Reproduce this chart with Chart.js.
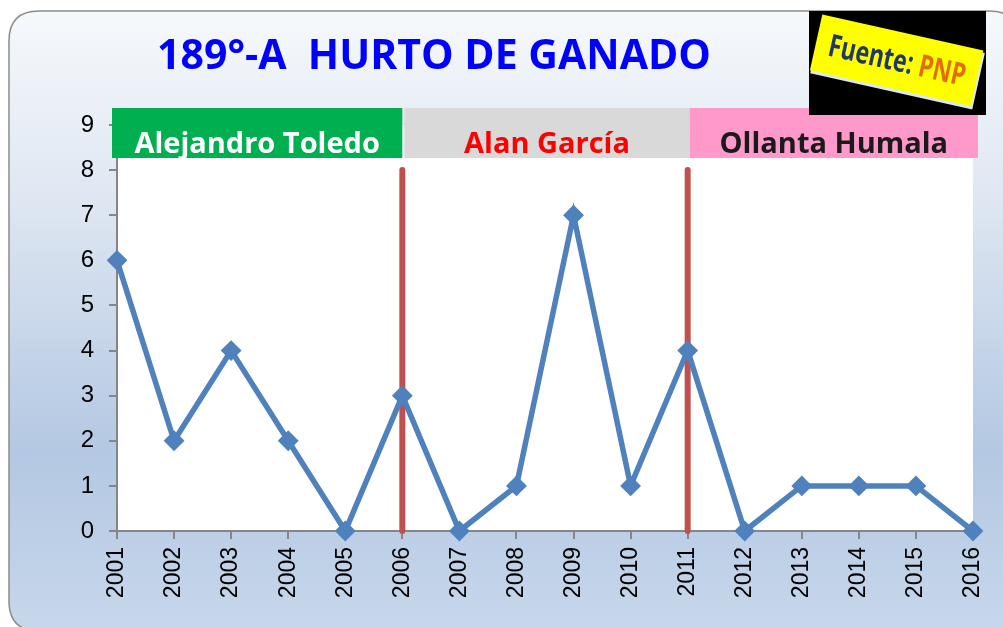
<!DOCTYPE html>
<html>
<head>
<meta charset="utf-8">
<script src="https://cdn.jsdelivr.net/npm/chart.js@4"></script>
<style>
  html, body { margin: 0; padding: 0; background: #fff; }
  #wrap { width: 1003px; height: 627px; }
</style>
</head>
<body>
<div id="wrap"><canvas id="myChart" width="1003" height="627"></canvas></div>
<script>
// ===== Data =====
const years = ["2001","2002","2003","2004","2005","2006","2007","2008","2009","2010","2011","2012","2013","2014","2015","2016"];
const hurtos = [6, 2, 4, 2, 0, 3, 0, 1, 7, 1, 4, 0, 1, 1, 1, 0];
const yTicks = [0, 1, 2, 3, 4, 5, 6, 7, 8, 9];

// Government periods (bands on top) and divider lines
const periods = ["Alejandro Toledo", "Alan García", "Ollanta Humala"];
const periodStart = ["2001", "2006", "2011"];
const periodEnd = ["2006", "2011", "2016"];
const periodFill = ["#00b050", "#d9d9d9", "#ff99cc"];
const periodText = ["#ffffff", "#ff0000", "#1a1a1a"];
const dividerYears = ["2006", "2011"];
const dividerTop = 8;

const titleText = "189°-A  HURTO DE GANADO";

// ===== Helpers =====
function roundRect(ctx, x, y, w, h, r) {
  ctx.beginPath();
  ctx.moveTo(x + r, y);
  ctx.lineTo(x + w - r, y);
  ctx.quadraticCurveTo(x + w, y, x + w, y + r);
  ctx.lineTo(x + w, y + h - r);
  ctx.quadraticCurveTo(x + w, y + h, x + w - r, y + h);
  ctx.lineTo(x + r, y + h);
  ctx.quadraticCurveTo(x, y + h, x, y + h - r);
  ctx.lineTo(x, y + r);
  ctx.quadraticCurveTo(x, y, x + r, y);
  ctx.closePath();
}

function fitFont(ctx, text, weight, family, targetW, maxSize) {
  ctx.font = weight + " 100px " + family;
  let s = 100 * targetW / ctx.measureText(text).width;
  return Math.min(s, maxSize);
}

// ===== Background, title, plot area =====
const backdrop = {
  id: "backdrop",
  beforeDraw(chart) {
    const ctx = chart.ctx, a = chart.chartArea;
    ctx.save();
    let g = ctx.createLinearGradient(0, 11, 0, 627);
    g.addColorStop(0, "#f6f9fc");
    g.addColorStop(0.3, "#dfe7f2");
    g.addColorStop(0.72, "#b3c8e2");
    g.addColorStop(1, "#c7d7eb");
    roundRect(ctx, 9, 11, 1010, 620, 30);
    ctx.fillStyle = g;
    ctx.fill();
    ctx.lineWidth = 1.5;
    ctx.strokeStyle = "#8c8c8c";
    ctx.stroke();

    // white plot area
    ctx.fillStyle = "#ffffff";
    ctx.fillRect(a.left, a.top, a.right - a.left, a.bottom - a.top);

    // title
    let s = fitFont(ctx, titleText, "bold", "'Open Sans'", 554, 44);
    ctx.font = "bold " + s + "px 'Open Sans'";
    ctx.fillStyle = "#0000ff";
    ctx.textAlign = "center";
    ctx.textBaseline = "alphabetic";
    ctx.fillText(titleText, 434, 69);
    ctx.restore();
  },
  beforeDatasetsDraw(chart) {
    const ctx = chart.ctx, x = chart.scales.x, y = chart.scales.y;
    ctx.save();
    ctx.strokeStyle = "#c0504d";
    ctx.lineWidth = 6;
    ctx.lineCap = "round";
    dividerYears.forEach(d => {
      const px = x.getPixelForValue(years.indexOf(d));
      ctx.beginPath();
      ctx.moveTo(px, y.getPixelForValue(dividerTop));
      ctx.lineTo(px, y.getPixelForValue(0));
      ctx.stroke();
    });
    ctx.restore();
  },
  afterDraw(chart) {
    const ctx = chart.ctx, x = chart.scales.x;
    ctx.save();
    // period bands
    periods.forEach((p, i) => {
      let l = x.getPixelForValue(years.indexOf(periodStart[i]));
      let r = x.getPixelForValue(years.indexOf(periodEnd[i]));
      l = i === 0 ? l - 5 : l + 2;
      r = i === periods.length - 1 ? r + 5 : (i === 0 ? r : r + 2);
      ctx.fillStyle = periodFill[i];
      ctx.fillRect(l, 108, r - l, 50);
      ctx.font = "bold 29px 'Open Sans'";
      ctx.fillStyle = periodText[i];
      ctx.textAlign = "center";
      ctx.textBaseline = "alphabetic";
      ctx.fillText(p, (l + r) / 2, 153);
    });

    // source box
    ctx.fillStyle = "#000000";
    ctx.fillRect(809, 11, 177, 104);
    ctx.translate(897, 61);
    ctx.rotate(12.6 * Math.PI / 180);
    ctx.fillStyle = "#dbe8f5";
    ctx.fillRect(-82, -27, 166, 58);
    ctx.fillStyle = "#ffff00";
    ctx.fillRect(-83, -29, 165, 57);
    ctx.scale(0.74, 1);
    ctx.font = "bold 31px 'Open Sans'";
    ctx.textBaseline = "middle";
    ctx.textAlign = "left";
    const w1 = ctx.measureText("Fuente: ").width;
    const w2 = ctx.measureText("PNP").width;
    const sx = -(w1 + w2) / 2;
    ctx.fillStyle = "#1f3864";
    ctx.fillText("Fuente: ", sx, 1);
    ctx.fillStyle = "#e46c0a";
    ctx.fillText("PNP", sx + w1, 1);
    ctx.restore();
  }
};

// ===== Chart.js Initialization =====
let ctx = document.getElementById("myChart").getContext("2d");

let chart = new Chart(ctx, {
  type: "line",
  data: {
    labels: years,
    datasets: [{
      label: "Hurto de ganado",
      data: hurtos,
      borderColor: "#4f81bd",
      backgroundColor: "#4f81bd",
      borderWidth: 5.5,
      pointStyle: "rectRot",
      pointRadius: 9,
      pointBorderWidth: 2,
      pointBackgroundColor: "#4f81bd",
      pointBorderColor: "#4f81bd",
      tension: 0,
      clip: false
    }]
  },
  options: {
    responsive: false,
    animation: false,
    layout: { padding: { top: 125, right: 30, left: 0, bottom: 0 } },
    plugins: {
      legend: { display: false },
      title: { display: false },
      tooltip: { enabled: false }
    },
    scales: {
      x: {
        offset: false,
        grid: { drawOnChartArea: false, tickLength: 8, color: "#868686", lineWidth: 2 },
        border: { color: "#868686", width: 2 },
        ticks: {
          minRotation: 90, maxRotation: 90, padding: 8,
          color: "#000", font: { family: "'Liberation Sans'", size: 23 }
        },
        afterFit: s => { s.height = 96; s.paddingLeft = 0; s.paddingRight = 0; }
      },
      y: {
        min: yTicks[0], max: yTicks[yTicks.length - 1],
        afterBuildTicks: s => { s.ticks = yTicks.map(v => ({ value: v })); },
        grid: { drawOnChartArea: false, tickLength: 8, color: "#868686", lineWidth: 2 },
        border: { color: "#868686", width: 2 },
        ticks: {
          padding: 15, color: "#000",
          font: { family: "'Liberation Sans'", size: 24 }
        },
        afterFit: s => { s.width = 117; s.paddingTop = 0; s.paddingBottom = 0; }
      }
    }
  },
  plugins: [backdrop]
});
</script>
</body>
</html>
